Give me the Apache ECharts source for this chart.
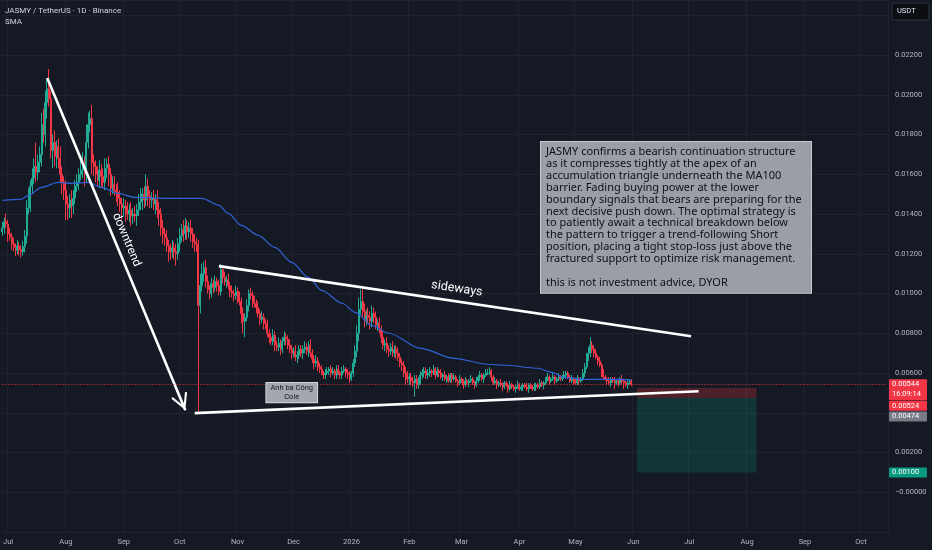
<!DOCTYPE html>
<html><head><meta charset="utf-8">
<script src="https://cdn.jsdelivr.net/npm/echarts@6/dist/echarts.min.js"></script>
<style>html,body{margin:0;padding:0;background:#151924;}#c{width:932px;height:550px;}</style>
</head><body><div id="c"></div>
<script>
// ---- axis definition ----
const startDay = [2025, 5, 28];          // first category: 28 Jun 2025
const dayCount = 475;                    // categories on the time axis
const monthTickLabels = ['Jul','Aug','Sep','Oct','Nov','Dec','2026','Feb','Mar','Apr','May','Jun','Jul','Aug','Sep','Oct'];
const PRICE_UNIT = 0.00001;              // values below are in 1e-5 USDT

// ---- daily candles (close, wick above body, wick below body) ----
const firstOpen = 1310;
const closes = [
 1330,1362,1350,1300,1285,1250,1232,1218,1240,1222,
 1210,1236,1290,1430,1470,1540,1580,1640,1610,1660,
 1700,1850,1800,1960,2030,1980,1720,1760,1690,1740,
 1680,1600,1560,1520,1450,1430,1470,1440,1480,1540,
 1560,1600,1620,1650,1600,1760,1850,1880,1660,1640,
 1600,1570,1620,1590,1560,1630,1650,1600,1530,1550,
 1520,1510,1480,1450,1430,1440,1410,1400,1420,1390,
 1400,1390,1420,1460,1480,1500,1470,1540,1490,1470,
 1480,1450,1470,1420,1400,1330,1300,1280,1240,1220,
 1210,1230,1210,1200,1250,1290,1320,1300,1340,1310,
 1330,1300,1260,1250,1240,940,1040,1100,1130,1060,
 1020,1000,1050,1030,1060,1040,1010,1120,1080,1060,
 1070,1040,1010,1000,990,1010,980,960,900,860,
 880,940,1000,990,960,950,930,900,870,880,
 850,840,800,780,760,790,740,730,750,720,
 760,780,770,740,720,700,710,680,690,720,
 700,720,730,710,740,700,670,650,660,630,
 620,600,590,600,610,620,600,610,590,620,
 600,590,610,620,600,590,570,600,650,710,
 800,920,960,910,870,890,880,860,900,880,
 840,850,820,780,740,750,720,710,730,700,
 720,700,680,650,640,600,590,570,580,560,
 550,570,540,560,590,600,610,590,600,610,
 600,620,590,610,600,580,590,570,580,560,
 590,570,580,560,550,570,560,540,560,550,
 560,570,550,540,560,580,590,570,590,600,
 600,610,580,550,560,540,550,540,530,550,
 540,520,540,530,520,530,540,520,530,540,
 530,520,540,530,520,530,540,530,550,540,
 550,570,580,560,570,580,560,570,580,570,
 580,590,600,580,560,570,560,550,570,560,
 570,600,630,680,700,740,720,700,680,660,
 640,600,580,570,560,550,570,560,550,560,
 550,570,560,550,540,550,560,544
];
const wickHi = [
 30,20,40,20,30,20,30,20,30,20,
 20,30,30,40,60,30,50,40,120,40,
 40,60,80,60,50,100,40,40,60,30,
 40,60,40,30,50,40,30,50,40,30,
 40,30,50,60,40,90,60,40,70,40,
 30,40,50,30,40,50,30,40,30,40,
 40,30,50,40,30,40,30,50,30,40,
 30,40,30,40,50,30,40,60,40,30,
 30,40,30,50,40,30,40,30,40,30,
 30,40,30,40,30,40,30,50,40,30,
 30,40,30,40,30,30,60,50,30,40,
 30,20,30,20,30,20,30,30,20,30,
 20,30,20,30,20,30,20,30,20,30,
 20,30,20,30,20,30,20,30,20,30,
 20,20,30,20,20,30,20,20,30,20,
 20,30,20,20,30,20,20,30,20,20,
 20,20,30,20,20,30,20,20,30,20,
 20,20,10,20,20,10,20,20,10,20,
 20,10,20,20,10,20,20,10,20,30,
 40,60,60,70,40,30,40,30,40,30,
 30,20,30,20,30,20,30,20,20,30,
 20,20,30,20,20,20,30,20,20,20,
 20,20,20,20,20,20,20,20,20,20,
 10,20,10,20,10,20,10,20,10,20,
 10,10,20,10,10,20,10,10,20,10,
 10,20,10,10,20,10,20,10,10,20,
 20,20,10,10,20,10,10,20,10,10,
 10,10,20,10,10,10,20,10,10,10,
 10,20,10,10,10,20,10,10,20,10,
 10,10,20,10,10,20,10,10,20,10,
 10,20,10,10,10,20,10,10,20,10,
 10,20,20,20,30,40,20,20,20,10,
 20,10,20,10,10,20,10,10,20,10,
 10,10,20,10,10,20,10,10
];
const wickLo = [
 20,30,20,40,20,30,20,30,20,30,
 30,20,30,40,30,60,40,30,50,40,
 50,60,40,60,80,40,40,90,50,60,
 50,40,60,50,80,60,50,60,40,30,
 30,40,30,40,60,40,30,40,60,50,
 40,30,40,60,30,40,50,60,40,30,
 30,50,40,40,60,40,50,30,40,50,
 40,30,50,30,40,60,40,30,50,40,
 40,30,50,40,60,40,50,40,30,60,
 40,30,40,60,30,40,30,40,30,40,
 30,40,30,40,30,540,40,30,40,30,
 20,30,20,30,20,30,20,20,30,20,
 30,20,30,20,30,20,30,20,50,60,
 80,20,30,20,30,20,30,20,30,20,
 30,20,20,30,20,20,30,20,20,30,
 20,20,30,20,20,30,20,20,30,20,
 20,30,20,20,30,20,20,30,20,20,
 20,10,20,20,10,20,20,10,20,20,
 10,20,20,10,20,20,20,10,20,20,
 30,40,30,30,40,30,30,40,30,30,
 20,30,20,30,20,30,20,30,20,20,
 20,30,20,20,30,20,50,20,30,20,
 20,70,20,20,20,20,20,20,20,20,
 20,10,20,10,20,10,20,10,20,10,
 10,20,10,10,20,10,10,20,10,10,
 20,10,10,20,10,10,20,10,20,10,
 10,10,20,10,10,20,10,10,20,10,
 10,20,10,10,10,20,10,10,10,20,
 10,10,20,10,10,10,20,10,10,10,
 20,10,10,20,10,10,20,10,10,10,
 10,10,20,10,10,10,20,10,10,20,
 10,10,20,10,20,20,20,20,10,20,
 10,20,10,10,20,10,20,10,30,10,
 20,10,20,30,10,20,10,10
];

// ---- SMA line, read at points along the curve: [day index, value] ----
const smaPoints = [
 [0,1469],[10,1474],[14,1494],[21,1534],[30,1559],[37,1554],[46,1559],[53,1534],
 [62,1504],[71,1484],[89,1479],[107,1479],[116,1444],[121,1403],[128,1343],[137,1293],
 [146,1232],[155,1157],[164,1081],[171,1016],[182,951],[189,905],[198,840],[207,800],
 [224,724],[242,674],[260,644],[269,639],[287,624],[294,604],[301,578],[312,568],
 [331,568],[337,563]
];

// ---- drawings (day index, price) ----
const downtrendLine = [[24,0.02084],[98,0.00413]];
const upperLine = [[116,0.01138],[369,0.00785]];
const lowerLine = [[103,0.00398],[373,0.00508]];
const positionSpan = [340,404];
const stopPrice = 0.00524, entryPrice = 0.00474, targetPrice = 0.00100;
const lastPrice = 0.00544;
const tagValues = [0.00544, 0.00524, 0.00474, 0.00100];
const tagTexts = [['0.00544','16:09:14'],['0.00524'],['0.00474'],['0.00100']];
const tagColors = ['#f23645','#f23645','#787b86','#089981'];
const noteText = 'Anh ba Công\nCole';
const boxLines = [
 'JASMY confirms a bearish continuation structure',
 'as it compresses tightly at the apex of an',
 'accumulation triangle underneath the MA100',
 'barrier. Fading buying power at the lower',
 'boundary signals that bears are preparing for the',
 'next decisive push down. The optimal strategy is',
 'to patiently await a technical breakdown below',
 'the pattern to trigger a trend-following Short',
 'position, placing a tight stop-loss just above the',
 'fractured support to optimize risk management.',
 '',
 'this is not investment advice, DYOR'
];

// ---- build ----
const categories = [];
const labelMap = {};
let m = 0;
for (let i = 0; i < dayCount; i++) {
  const d = new Date(Date.UTC(startDay[0], startDay[1], startDay[2] + i));
  const s = d.toISOString().slice(0, 10);
  categories.push(s);
  if (d.getUTCDate() === 1) { labelMap[s] = monthTickLabels[m++] || ''; }
}
const isMonthStart = (idx, val) => labelMap[val] !== undefined;

const ohlc = closes.map((c, i) => {
  const o = i === 0 ? firstOpen : closes[i - 1];
  const hi = Math.max(o, c) + wickHi[i];
  const lo = Math.min(o, c) - wickLo[i];
  return [o * PRICE_UNIT, c * PRICE_UNIT, lo * PRICE_UNIT, hi * PRICE_UNIT];
});
const sma = smaPoints.map(p => [p[0], p[1] * PRICE_UNIT]);

const FONT = 'Roboto';
const chevron = 'path://M0,-24 L0.01,-24 L0,-23.99 Z M0,0 L12,22 L9.4,23.6 L0,6.2 L-9.4,23.6 L-12,22 Z';

const chart = echarts.init(document.getElementById('c'), null, {renderer: 'canvas'});
chart.setOption({
  backgroundColor: '#151924',
  animation: false,
  grid: {left: 0, right: 44, top: 0, bottom: 18},
  xAxis: {
    type: 'category', data: categories, boundaryGap: true,
    axisLine: {show: false}, axisTick: {show: false},
    axisLabel: {interval: isMonthStart, formatter: v => labelMap[v] || '', color: '#b2b5be', fontSize: 7.5, fontFamily: FONT, margin: 6},
    splitLine: {show: true, interval: isMonthStart, lineStyle: {color: '#1f2330', width: 1}}
  },
  yAxis: {
    type: 'value', position: 'right', min: -0.002, max: 0.02477, interval: 0.002,
    axisLine: {show: false}, axisTick: {show: false},
    splitLine: {lineStyle: {color: '#1f2330', width: 1}},
    axisLabel: {
      color: '#b2b5be', fontSize: 7.5, fontFamily: FONT, margin: 7, showMaxLabel: false,
      formatter: v => {
        if (v < -0.001 || v > 0.0231 || Math.abs(v - 0.004) < 1e-7) return '';
        if (Math.abs(v) < 1e-9) return '\u22120.00000';
        return v.toFixed(5);
      }
    }
  },
  series: [
    {
      type: 'candlestick', data: ohlc, barWidth: '80%',
      itemStyle: {color: '#22ab94', color0: '#f23645', borderColor: '#22ab94', borderColor0: '#f23645', borderWidth: 1}
    },
    {
      type: 'line', data: sma, smooth: 0.3, smoothMonotone: 'x', showSymbol: false, symbol: 'none',
      lineStyle: {color: '#2e62d6', width: 1.2}, z: 3,
      markArea: {
        silent: true,
        data: [
          [{coord: [positionSpan[0], stopPrice], itemStyle: {color: 'rgba(242,54,69,0.26)'}}, {coord: [positionSpan[1], entryPrice]}],
          [{coord: [positionSpan[0], entryPrice], itemStyle: {color: 'rgba(8,153,129,0.22)'}}, {coord: [positionSpan[1], targetPrice]}]
        ]
      },
      markLine: {
        silent: true, symbol: ['none', 'none'], animation: false,
        lineStyle: {color: '#ffffff', width: 2.6, type: 'solid'},
        data: [
          [
            {coord: downtrendLine[0], symbol: 'none', label: {show: true, position: 'insideMiddleTop', formatter: 'downtrend', color: '#ffffff', fontSize: 12, fontFamily: FONT, distance: 5}},
            {coord: downtrendLine[1], symbol: chevron, symbolSize: [17, 34]}
          ],
          [
            {coord: upperLine[0], symbol: 'none', label: {show: true, position: 'insideMiddleTop', formatter: 'sideways', color: '#ffffff', fontSize: 12.5, fontFamily: FONT, distance: 6}},
            {coord: upperLine[1], symbol: 'none'}
          ],
          [
            {coord: lowerLine[0], symbol: 'none', label: {show: false}},
            {coord: lowerLine[1], symbol: 'none'}
          ],
          [
            {coord: [0, lastPrice], symbol: 'none', label: {show: false}, lineStyle: {color: '#f23645', width: 1, type: [1, 2]}},
            {coord: [dayCount - 1, lastPrice], symbol: 'none', lineStyle: {color: '#f23645', width: 1, type: [1, 2]}}
          ]
        ]
      }
    }
  ]
});

// ---- overlay texts ----
const graphics = [
  {type: 'text', x: 5, y: 11, z: 50, style: {text: 'JASMY / TetherUS \u00b7 1D \u00b7 Binance', fill: '#d1d4dc', font: '8px ' + FONT, verticalAlign: 'middle'}},
  {type: 'text', x: 5, y: 22, z: 50, style: {text: 'SMA', fill: '#d1d4dc', font: '8px ' + FONT, verticalAlign: 'middle'}},
  {type: 'rect', z: 50, shape: {x: 892, y: 3, width: 37, height: 17, r: 2}, style: {fill: '#0c0e14', stroke: '#2e3240', lineWidth: 1}},
  {type: 'text', x: 897, y: 11.5, z: 51, style: {text: 'USDT', fill: '#e0e3eb', font: '7.5px ' + FONT, verticalAlign: 'middle'}},
  {type: 'text', x: 541, y: 142, z: 60, style: {
    text: boxLines.join('\n'), fill: '#0e1014', font: '11px "Noto Sans"', lineHeight: 11.9,
    backgroundColor: '#9b9ea7', borderColor: '#c9cbd1', borderWidth: 1, padding: [4, 5, 4, 5], width: 260
  }}
];
const notePos = chart.convertToPixel({xAxisIndex: 0, yAxisIndex: 0}, [155, 0.00501]);
graphics.push({type: 'text', x: notePos[0], y: notePos[1], z: 60, style: {
  text: noteText, fill: '#15171c', font: '7.5px ' + FONT, lineHeight: 8.6, align: 'center', verticalAlign: 'middle',
  backgroundColor: '#a4a7af', borderColor: '#d4d6da', borderWidth: 1, padding: [1, 4, 1, 4]
}});
let prevBottom = -1e9;
tagValues.forEach((v, k) => {
  const py = chart.convertToPixel({yAxisIndex: 0}, v);
  const lines = tagTexts[k];
  const h = lines.length === 1 ? 10 : 21;
  let top = py - 5;
  if (top < prevBottom + 0.7) top = prevBottom + 0.7;
  prevBottom = top + h;
  graphics.push({type: 'rect', z: 70, shape: {x: 889, y: top, width: 38, height: h, r: 1}, style: {fill: tagColors[k]}});
  lines.forEach((t, j) => {
    graphics.push({type: 'text', z: 71, x: 892, y: top + 5 + j * 9.5, style: {text: t, fill: '#ffffff', font: '7.5px ' + FONT, verticalAlign: 'middle'}});
  });
});
chart.setOption({graphic: graphics});
</script>
</body></html>
